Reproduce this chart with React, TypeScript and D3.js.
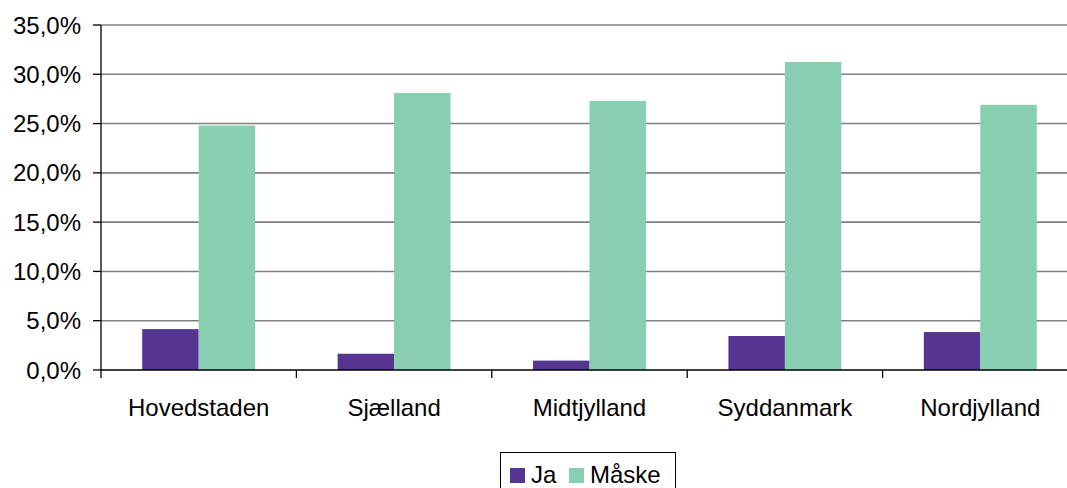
import React, { useEffect, useRef } from "react";
import * as d3 from "d3";

const categories = ["Hovedstaden", "Sjælland", "Midtjylland", "Syddanmark", "Nordjylland"];
const seriesNames = ["Ja", "Måske"];
const jaValues = [4.15, 1.65, 0.95, 3.45, 3.85];
const maskeValues = [24.8, 28.1, 27.3, 31.25, 26.9];
const yTicks = [0, 5, 10, 15, 20, 25, 30, 35];
const colors = ["#563592", "#88CEB0"];

const W = 1067;
const H = 488;

export default function App() {
  const ref = useRef<SVGSVGElement | null>(null);

  useEffect(() => {
    const svg = d3.select(ref.current);
    svg.selectAll("*").remove();
    const font = "'Liberation Sans', Arial, sans-serif";
    const fs = 24;

    const left = 101, right = 1078, top = 25, bottom = 370;
    const x = d3.scaleBand<string>().domain(categories).range([left, right]).paddingInner(0).paddingOuter(0);
    const y = d3.scaleLinear().domain([0, 35]).range([bottom, top]);
    const inner = d3.scaleBand<string>().domain(seriesNames).range([0, x.bandwidth()]).paddingInner(0).paddingOuter(0.73);

    // gridlines
    svg.append("g").selectAll("line").data(yTicks.filter(t => t > 0)).join("line")
      .attr("x1", left).attr("x2", W + 20)
      .attr("y1", d => y(d)).attr("y2", d => y(d))
      .attr("stroke", "#808080").attr("stroke-width", 1.6);

    const data = [jaValues, maskeValues];
    data.forEach((vals, si) => {
      svg.append("g").selectAll("rect").data(categories).join("rect")
        .attr("x", c => (x(c) as number) + (inner(seriesNames[si]) as number))
        .attr("width", inner.bandwidth())
        .attr("y", (c, i) => y(vals[i]))
        .attr("height", (c, i) => bottom - y(vals[i]))
        .attr("fill", colors[si]);
    });

    // y axis
    svg.append("line").attr("x1", left).attr("x2", left).attr("y1", top).attr("y2", bottom)
      .attr("stroke", "#000").attr("stroke-width", 1.3);
    svg.append("g").selectAll("line").data(yTicks).join("line")
      .attr("x1", left - 8).attr("x2", left).attr("y1", d => y(d)).attr("y2", d => y(d))
      .attr("stroke", "#000").attr("stroke-width", 1.3);
    svg.append("g").selectAll("text").data(yTicks).join("text")
      .attr("x", left - 20).attr("y", d => y(d)).attr("dy", "0.36em")
      .attr("text-anchor", "end").attr("font-family", font).attr("font-size", fs)
      .attr("fill", "#000")
      .text(d => d.toFixed(1).replace(".", ",") + "%");

    // x axis
    svg.append("line").attr("x1", left).attr("x2", W + 20).attr("y1", bottom).attr("y2", bottom)
      .attr("stroke", "#000").attr("stroke-width", 1.6);
    const bounds = categories.map(c => x(c) as number).concat([right]);
    svg.append("g").selectAll("line").data(bounds).join("line")
      .attr("x1", d => d).attr("x2", d => d).attr("y1", bottom).attr("y2", bottom + 8)
      .attr("stroke", "#000").attr("stroke-width", 1.3);
    svg.append("g").selectAll("text").data(categories).join("text")
      .attr("x", c => (x(c) as number) + x.bandwidth() / 2).attr("y", 416)
      .attr("text-anchor", "middle").attr("font-family", font).attr("font-size", fs)
      .attr("fill", "#000").text(c => c);

    // legend
    const lg = svg.append("g");
    lg.append("rect").attr("x", 500.5).attr("y", 452.5).attr("width", 175).attr("height", 45)
      .attr("fill", "#fff").attr("stroke", "#000").attr("stroke-width", 1);
    const items = [
      { name: seriesNames[0], sx: 510, tx: 531 },
      { name: seriesNames[1], sx: 569, tx: 590 },
    ];
    items.forEach((it, i) => {
      lg.append("rect").attr("x", it.sx).attr("y", 468).attr("width", 15).attr("height", 15).attr("fill", colors[i]);
      lg.append("text").attr("x", it.tx).attr("y", 483).attr("font-family", font).attr("font-size", fs)
        .attr("fill", "#000").text(it.name);
    });
  }, []);

  return (
    <svg ref={ref} width={W} height={H}
      style={{ position: "absolute", left: 0, top: 0, background: "#fff" }} />
  );
}
